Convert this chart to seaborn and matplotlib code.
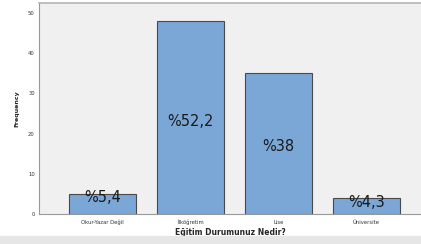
import matplotlib
matplotlib.use("Agg")
import matplotlib.pyplot as plt
import seaborn as sns
import pandas as pd

categories = ["Okur-Yazar Değil", "İlköğretim", "Lise", "Üniversite"]
frequency = [5, 48, 35, 4]
pct_labels = ["%5,4", "%52,2", "%38", "%4,3"]
label_y = [4.0, 22.9, 16.7, 2.9]

sns.set_style("white")
plt.rcParams["font.family"] = ["DejaVu Sans"]

df = pd.DataFrame({"cat": categories, "freq": frequency})

fig = plt.figure(figsize=(4.21, 2.44), dpi=100)
fig.patch.set_facecolor("white")
# grey strip at the bottom of the picture
fig.patches.append(plt.Rectangle((0, 0), 1, 8 / 244, transform=fig.transFigure,
                                 color="#e6e6e6", zorder=0))
ax = fig.add_axes([39 / 421, 30 / 244, 382 / 421, 211 / 244])
ax.set_facecolor("#f0f0f0")

sns.barplot(data=df, x="cat", y="freq", color="#7ba7d7", width=0.76,
            edgecolor="#4a4a4a", linewidth=0.8, saturation=1, ax=ax)

for i, (t, y) in enumerate(zip(pct_labels, label_y)):
    ax.text(i, y, t, ha="center", va="center", fontsize=10.5, color="#1a1a1a")

ax.set_xlim(-0.72, 3.62)
ax.set_ylim(0, 52.5)
ax.set_yticks([0, 10, 20, 30, 40, 50])
ax.tick_params(axis="both", labelsize=3.8, colors="#555555", length=2, width=0.6,
               pad=1)
ax.tick_params(axis="x", labelcolor="#333333", pad=2)
ax.tick_params(axis="y", labelcolor="#333333")
ax.set_ylabel("Frequency", fontsize=4.5, fontweight="bold", labelpad=6)
ax.set_xlabel("Eğitim Durumunuz Nedir?", fontsize=5.5, fontweight="bold",
              labelpad=2)

for s in ["left", "bottom", "top"]:
    ax.spines[s].set_color("#999999")
    ax.spines[s].set_linewidth(0.8)
ax.spines["top"].set_color("#b5b5b5")
ax.spines["top"].set_linewidth(1.2)
ax.spines["right"].set_visible(False)

fig.savefig("out.png", dpi=100)
